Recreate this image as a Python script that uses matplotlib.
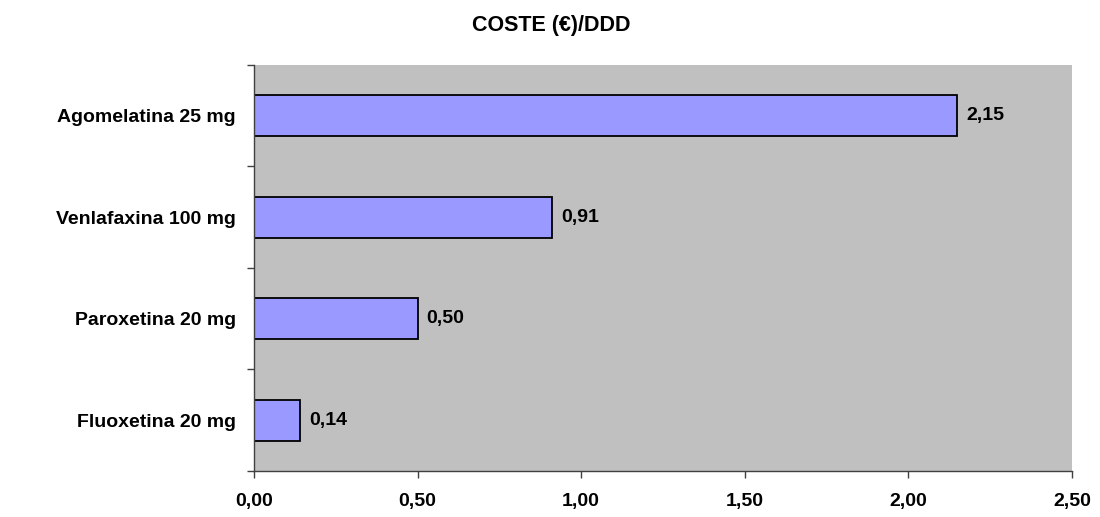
import matplotlib
matplotlib.use("Agg")
import matplotlib.pyplot as plt
from matplotlib.ticker import FixedLocator

plt.rcParams['font.family'] = ['Liberation Sans', 'DejaVu Sans']
plt.rcParams['font.weight'] = 'bold'

# data, bottom to top
drugs = ["Fluoxetina 20 mg", "Paroxetina 20 mg", "Venlafaxina 100 mg", "Agomelatina 25 mg"]
costs = [0.14, 0.50, 0.91, 2.15]
x_ticks = [0.0, 0.5, 1.0, 1.5, 2.0, 2.5]

fig = plt.figure(figsize=(11, 5.17), dpi=100)
ax = fig.add_axes([0.2309, 0.0890, 0.9745 - 0.2309, 0.8743 - 0.0890])
ax.set_facecolor('#C0C0C0')

pos = list(range(len(drugs)))
ax.barh(pos, costs, height=0.4, color='#9999FF', edgecolor='black', linewidth=1.3)

for y, v in zip(pos, costs):
    ax.annotate(f"{v:.2f}".replace('.', ','), (v, y), xytext=(6.5, 0),
                textcoords='offset points', va='center', ha='left',
                fontsize=14, fontweight='bold')

ax.set_xlim(0, 2.5)
ax.set_ylim(-0.5, len(drugs) - 0.5)
ax.set_xticks(x_ticks)
ax.set_xticklabels([f"{t:.2f}".replace('.', ',') for t in x_ticks], fontsize=14, fontweight='bold')

# category boundary ticks, labels in the middle
ax.yaxis.set_major_locator(FixedLocator([i - 0.5 for i in range(len(drugs) + 1)]))
ax.yaxis.set_major_formatter(plt.NullFormatter())
ax.yaxis.set_minor_locator(FixedLocator(pos))
ax.set_yticklabels(drugs, minor=True, fontsize=14, fontweight='bold')
ax.tick_params(axis='y', which='minor', length=0, pad=13)
ax.tick_params(axis='y', which='major', length=5, width=1, color='#404040')
ax.tick_params(axis='x', length=5, width=1, pad=11, color='#404040')

for s in ['top', 'right']:
    ax.spines[s].set_visible(False)
for s in ['left', 'bottom']:
    ax.spines[s].set_color('#404040')
    ax.spines[s].set_linewidth(1)

fig.text(0.501, 0.950, "COSTE (€)/DDD", ha='center', va='center', fontsize=15.5, fontweight='bold')

fig.savefig("out.png", dpi=100)
